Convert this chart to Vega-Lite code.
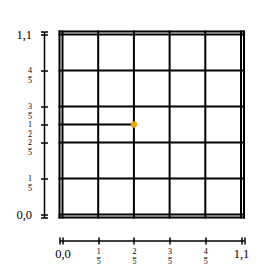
{
  "$schema": "https://vega.github.io/schema/vega-lite/v6.json",
  "width": 184.5,
  "height": 186,
  "autosize": "none",
  "padding": {"left": 59.5, "top": 31.5, "right": 33, "bottom": 59.5},
  "config": {
    "view": {"stroke": null},
    "axis": {
      "grid": false,
      "title": null,
      "domainColor": "#000",
      "domainWidth": 1.5,
      "tickColor": "#000",
      "tickWidth": 1.5,
      "labelColor": "#000",
      "labelFont": "Liberation Serif",
      "labelOverlap": false,
      "labelFlush": false,
      "labelBound": false
    }
  },
  "datasets": {
    "grid": [
      {"v": -0.0168}, {"v": 0}, {"v": 0.2}, {"v": 0.4}, {"v": 0.6}, {"v": 0.8}, {"v": 1}, {"v": 1.0168}
    ],
    "pt": [{"x0": -0.0168, "x": 0.4, "y": 0.5}]
  },
  "resolve": {"axis": {"x": "independent", "y": "independent"}},
  "layer": [
    {
      "data": {"name": "grid"},
      "mark": {"type": "rule", "color": "#000", "strokeWidth": 2, "strokeCap": "square"},
      "encoding": {
        "x": {
          "field": "v", "type": "quantitative",
          "scale": {"domain": [-0.0168, 1.0168], "nice": false, "zero": false},
          "axis": {
            "orient": "bottom", "offset": 23,
            "values": [-0.0168, 0, 0.2, 0.4, 0.6, 0.8, 1, 1.0168],
            "tickSize": 3.5, "labelPadding": 3,
            "labelAlign": "center", "labelBaseline": "top",
            "labelExpr": "datum.value==0?'0,0':datum.value==1?'1,1':(datum.value>0&&datum.value<1)?[''+round(datum.value*5),'–','5']:''",
            "labelFontSize": {"condition": {"test": "datum.value==0||datum.value==1", "value": 12.5}, "value": 8},
            "labelLineHeight": 5
          }
        }
      }
    },
    {
      "data": {"name": "grid"},
      "mark": {"type": "rule", "color": "#000", "strokeWidth": 2, "strokeCap": "square"},
      "encoding": {
        "y": {
          "field": "v", "type": "quantitative",
          "scale": {"domain": [-0.0168, 1.0168], "nice": false, "zero": false},
          "axis": {
            "orient": "left", "offset": 15.5,
            "values": [-0.0168, 0, 0.2, 0.4, 0.5, 0.6, 0.8, 1, 1.0168],
            "tickSize": 3.5, "labelPadding": 9,
            "labelAlign": "right", "labelBaseline": "middle",
            "labelExpr": "datum.value==0?'0,0':datum.value==1?'1,1':datum.value==0.5?['1','–','2']:(datum.value>0&&datum.value<1)?[''+round(datum.value*5),'–','5']:''",
            "labelFontSize": {"condition": {"test": "datum.value==0||datum.value==1", "value": 12.5}, "value": 8},
            "labelLineHeight": 5
          }
        }
      }
    },
    {
      "data": {"name": "pt"},
      "mark": {"type": "rule", "color": "#000", "strokeWidth": 2, "strokeCap": "square"},
      "encoding": {
        "x": {
          "field": "x0", "type": "quantitative",
          "axis": {
            "orient": "bottom", "offset": 23, "domain": false, "labels": false,
            "values": [-0.0168, 0, 0.2, 0.4, 0.6, 0.8, 1, 1.0168],
            "tickSize": -3.5
          }
        },
        "x2": {"field": "x"},
        "y": {
          "field": "y", "type": "quantitative",
          "axis": {
            "orient": "left", "offset": 15.5, "domain": false, "labels": false,
            "values": [-0.0168, 0, 0.2, 0.4, 0.5, 0.6, 0.8, 1, 1.0168],
            "tickSize": -3.5
          }
        }
      }
    },
    {
      "data": {"name": "pt"},
      "mark": {"type": "point", "filled": true, "color": "#f2a20c", "size": 40, "opacity": 1},
      "encoding": {
        "x": {"field": "x", "type": "quantitative", "axis": null},
        "y": {"field": "y", "type": "quantitative", "axis": null}
      }
    }
  ]
}
